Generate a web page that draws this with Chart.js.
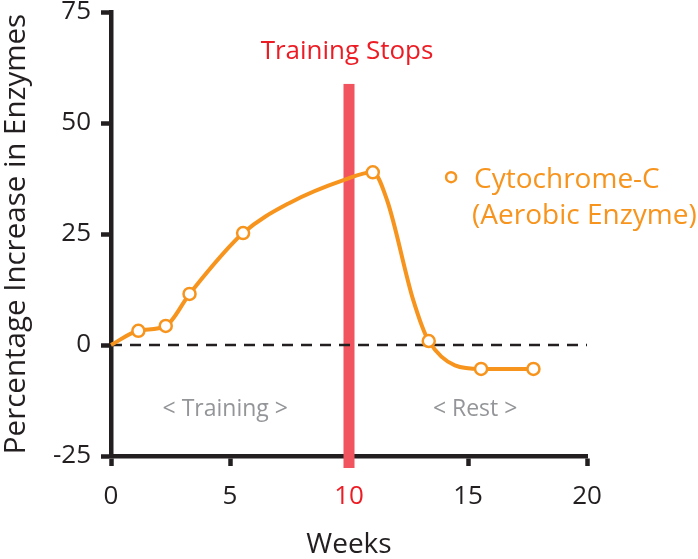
<!DOCTYPE html>
<html><head><meta charset="utf-8">
<script src="https://cdn.jsdelivr.net/npm/chart.js@4"></script>
<style>html,body{margin:0;padding:0;background:#fff}</style>
</head><body>
<canvas id="c" width="698" height="559"></canvas>
<script>
// ---- data ----
const weeks          = [0, 1.15, 2.3, 3.3, 5.55, 7.5, 9.8, 11.0, 11.6, 12.7, 13.35, 15.55, 17.75];
const enzymeIncrease = [0, 3.2, 4.3, 11.5, 25.2, 32.0, 37.2, 38.9, 32.6, 10.1, 0.9, -5.4, -5.4];
const measured       = [false, true, true, true, true, false, false, true, false, false, true, true, true];
const xTickValues = [0, 5, 10, 15, 20];
const yTickValues = [-25, 0, 25, 50, 75];
const baselineX = [0, 20];
const baselineY = [0, 0];
const trainingStopWeek = 10;
const seriesLabel = ['Cytochrome-C', '(Aerobic Enzyme)'];
const phaseLabels = ['< Training >', '< Rest >'];
const phaseWeeks = [4.8, 15.3];

const FONT = "'Open Sans', 'DejaVu Sans', sans-serif";
const ORANGE = '#f7941d', BLACK = '#231f20', RED = '#ed1c24', BAR = '#f1545e', GREY = '#939598';

const annotations = {
  id: 'annotations',
  beforeDatasetsDraw(chart) {
    const {ctx, scales: {x, y}, chartArea} = chart;
    const xp = x.getPixelForValue(trainingStopWeek);
    ctx.save();
    ctx.fillStyle = BAR;
    const top = y.getPixelForValue(58.8);
    ctx.fillRect(xp - 5.5, top, 11, chartArea.bottom + 12 - top);
    ctx.restore();
  },
  afterDatasetsDraw(chart) {
    const {ctx, scales: {x, y}} = chart;
    ctx.save();
    ctx.textBaseline = 'middle';
    ctx.textAlign = 'center';
    ctx.fillStyle = RED;
    ctx.font = `26px ${FONT}`;
    ctx.fillText('Training Stops', x.getPixelForValue(trainingStopWeek) - 2, y.getPixelForValue(66));
    ctx.fillStyle = GREY;
    ctx.font = `23px ${FONT}`;
    phaseLabels.forEach((t, i) => ctx.fillText(t, x.getPixelForValue(phaseWeeks[i]), y.getPixelForValue(-14.6)));
    // legend
    const lx = x.getPixelForValue(14.29), ly = y.getPixelForValue(37.8);
    ctx.beginPath();
    ctx.arc(lx, ly, 5, 0, Math.PI * 2);
    ctx.fillStyle = '#fff'; ctx.fill();
    ctx.lineWidth = 2.5; ctx.strokeStyle = ORANGE; ctx.stroke();
    ctx.fillStyle = ORANGE;
    ctx.textAlign = 'left';
    ctx.font = `28px ${FONT}`;
    ctx.fillText(seriesLabel[0], lx + 23, ly + 3);
    ctx.fillText(seriesLabel[1], lx + 21, ly + 39);
    ctx.restore();
  }
};

new Chart(document.getElementById('c'), {
  type: 'line',
  data: {
    datasets: [
      {
        label: seriesLabel.join(' '),
        data: weeks.map((w, i) => ({x: w, y: enzymeIncrease[i]})),
        borderColor: ORANGE,
        borderWidth: 4,
        cubicInterpolationMode: 'monotone',
        pointRadius: ctx => measured[ctx.dataIndex] ? 6 : 0,
        pointHoverRadius: ctx => measured[ctx.dataIndex] ? 6 : 0,
        pointBackgroundColor: '#fff',
        pointBorderColor: ORANGE,
        pointBorderWidth: 2.5,
        order: 1
      },
      {
        label: 'baseline',
        data: baselineX.map((w, i) => ({x: w, y: baselineY[i]})),
        borderColor: BLACK,
        borderWidth: 2.5,
        borderDash: [11, 8],
        pointRadius: 0,
        order: 2
      }
    ]
  },
  options: {
    responsive: false,
    animation: false,
    clip: false,
    layout: {padding: {top: 12, right: 111, left: 0, bottom: 0}},
    plugins: {legend: {display: false}, tooltip: {enabled: false}},
    scales: {
      x: {
        type: 'linear', min: 0, max: 20,
        afterBuildTicks: s => { s.ticks = xTickValues.map(v => ({value: v})); },
        afterFit: s => { s.height = 103; s.paddingLeft = 0; s.paddingRight = 0; },
        grid: {drawOnChartArea: false, drawTicks: true, tickLength: 10, tickWidth: 4.5, tickColor: BLACK},
        border: {display: true, color: BLACK, width: 4.5},
        ticks: {
          padding: 15,
          font: {family: FONT, size: 26},
          color: c => c.tick && c.tick.value === trainingStopWeek ? RED : BLACK,
          maxRotation: 0
        },
        title: {display: true, text: 'Weeks', color: BLACK, font: {family: FONT, size: 28, lineHeight: 1.0}, padding: 0}
      },
      y: {
        type: 'linear', min: -25, max: 75,
        afterBuildTicks: s => { s.ticks = yTickValues.map(v => ({value: v})); },
        afterFit: s => { s.width = 111; s.paddingTop = 0; s.paddingBottom = 0; },
        grid: {drawOnChartArea: false, drawTicks: true, tickLength: 10, tickWidth: 4.5, tickColor: BLACK},
        border: {display: true, color: BLACK, width: 4.5},
        ticks: {padding: 10, font: {family: FONT, size: 26}, color: BLACK},
        title: {display: true, text: 'Percentage Increase in Enzymes', color: BLACK, font: {family: FONT, size: 29.5, lineHeight: 1.1}, padding: 0}
      }
    }
  },
  plugins: [annotations]
});
</script>
</body></html>
